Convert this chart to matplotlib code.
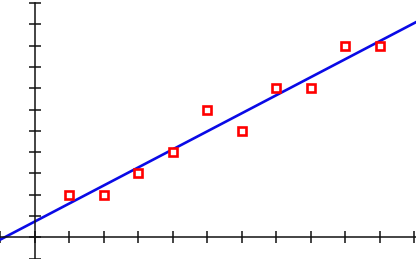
import numpy as np
import matplotlib
matplotlib.use('Agg')
import matplotlib.pyplot as plt

# observed points
x_vals = [1, 2, 3, 4, 5, 6, 7, 8, 9, 10]
y_vals = [2, 2, 3, 4, 6, 5, 7, 7, 9, 9]
x_ticks = list(range(-1, 12))
y_ticks = list(range(-1, 12))

# least squares fit line
slope, intercept = np.polyfit(x_vals, y_vals, 1)
x_fit = np.array([-1.0, 11.1])
y_fit = slope * x_fit + intercept

fig = plt.figure(figsize=(4.16, 2.59), dpi=100)
ax = fig.add_axes([0, 0, 1, 1])

ax.plot(x_fit, y_fit, color='#0a0ae6', lw=1.9, zorder=2)
ax.plot(x_vals, y_vals, ls='none', marker='s', ms=5.5, mew=1.9,
        mfc='white', mec='#ff0000', zorder=3)

ax.set_xlim(-1.0, 11.05)
ax.set_ylim(-1.02, 11.15)
ax.spines['left'].set_position(('data', 0))
ax.spines['bottom'].set_position(('data', 0))
ax.spines['top'].set_visible(False)
ax.spines['right'].set_visible(False)
for s in ('left', 'bottom'):
    ax.spines[s].set_linewidth(1.1)
    ax.spines[s].set_color('#111111')
ax.spines['left'].set_bounds(-1.02, 11)
ax.set_xticks(x_ticks)
ax.set_yticks(y_ticks)
ax.tick_params(direction='inout', length=8.5, width=1.1, color='#111111',
               labelbottom=False, labelleft=False)

fig.savefig('out.png', dpi=100)
